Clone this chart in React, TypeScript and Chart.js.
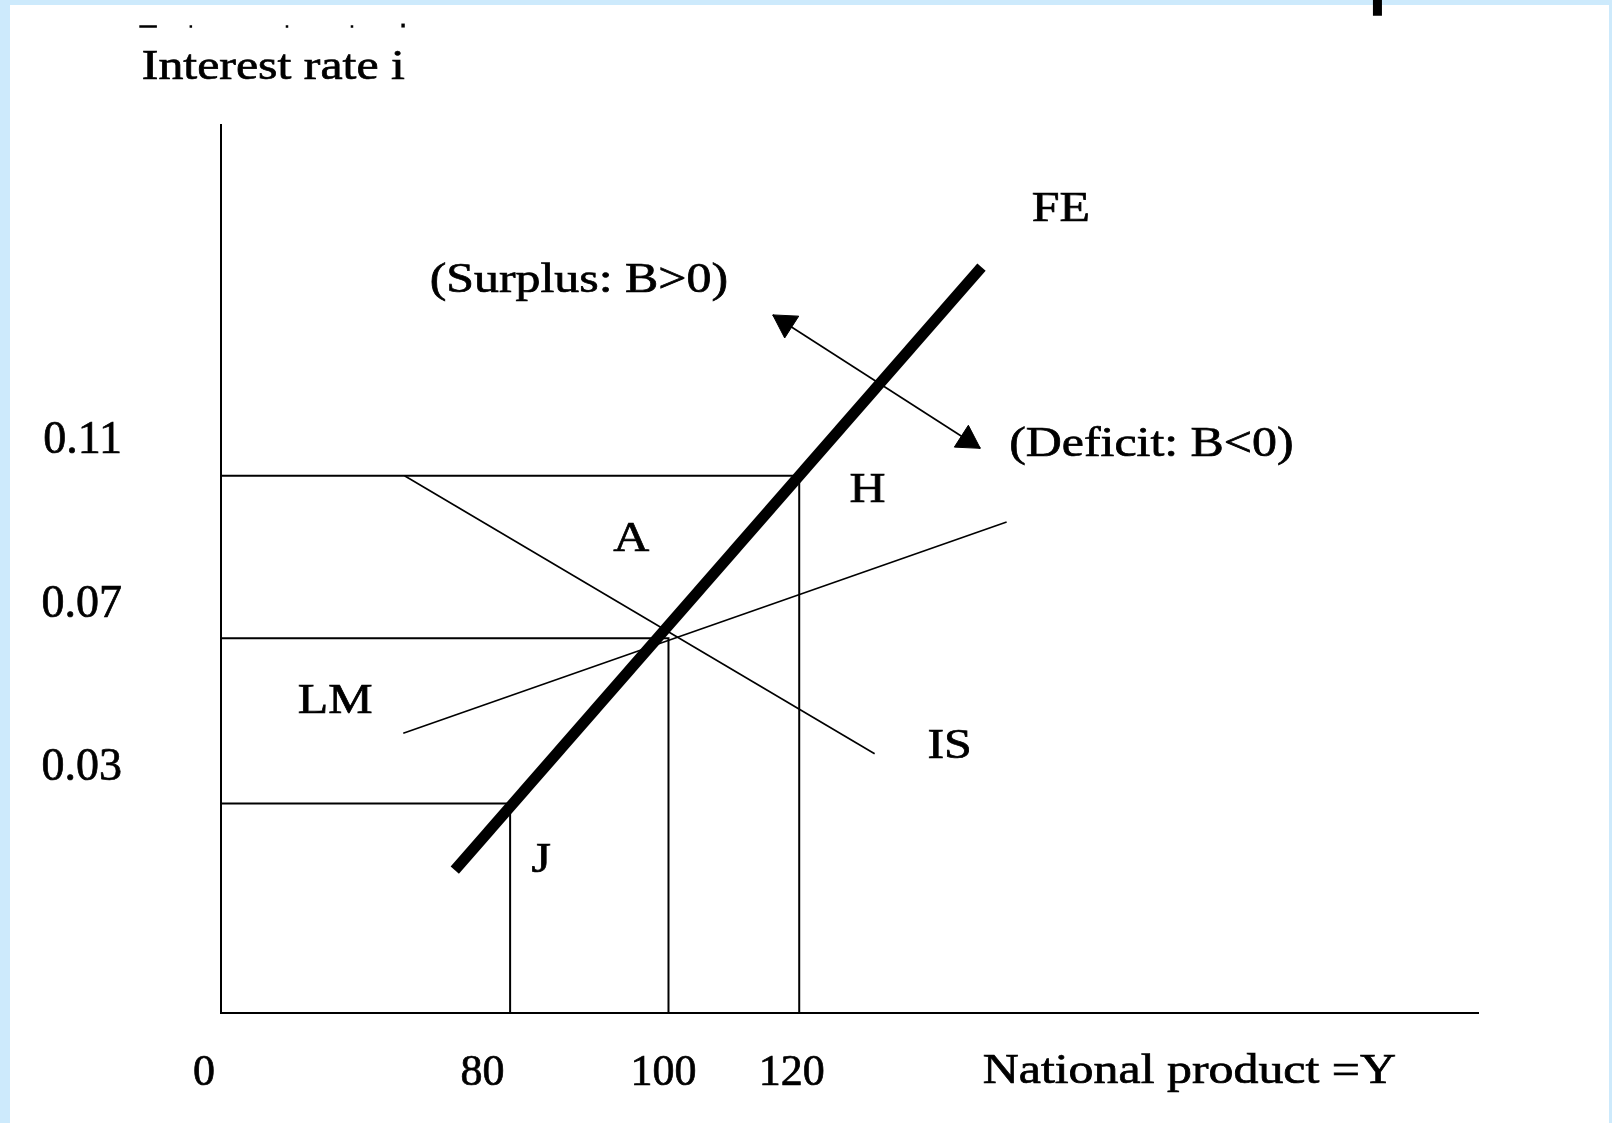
import React, { useEffect, useRef } from "react";
import { Chart, registerables } from "chart.js";

Chart.register(...registerables);

// ---- Diagram data (schematic units: x 0..100 along the Y axis, y 0..100 along the i axis) ----
const xTickValues = [-1.35, 20.8, 35.2, 45.4];
const xTickLabels = ["0", "80", "100", "120"];
const yTickValues = [64.4, 46.0, 27.6];
const yTickLabels = ["0.11", "0.07", "0.03"];

// guide lines (horizontal from i-axis, then down to Y-axis)
const guideHighX = [0, 46.0, 46.0];
const guideHighY = [60.5, 60.5, 0];
const guideMidX = [0, 35.6, 35.6];
const guideMidY = [42.2, 42.2, 0];
const guideLowX = [0, 23.0, 23.0];
const guideLowY = [23.6, 23.6, 0];

// curves
const isX = [14.6, 52.0];
const isY = [60.5, 29.2];
const lmX = [14.5, 62.5];
const lmY = [31.5, 55.3];
const feX = [18.6, 60.5];
const feY = [16.1, 84.0];

// balance-of-payments arrow
const arrowX = [43.9, 60.4];
const arrowY = [78.6, 63.6];
const arrowHeadX = [44.9, 59.4];
const arrowHeadY = [77.7, 64.5];
const arrowHeadRotation = [-57.3, 122.7];

// scan residue at top of page (cut-off text line), listed right to left
const residueStartX = [10.32, 5.15, -2.5, -6.5];
const residueEndX = [10.52, 5.35, -2.3, -5.1];
const residueY = [111.1, 111.1, 111.1, 111.1];
const residueDotX = [14.35, 14.62];
const residueDotY = [111.2, 111.2];
const barX = [92.0, 92.0];
const barY = [114.3, 112.3];

// text annotations
const annotationText = [
  "Interest rate i",
  "FE",
  "(Surplus: B>0)",
  "(Deficit: B<0)",
  "H",
  "A",
  "LM",
  "IS",
  "J",
  "National product =Y",
];
const annotationX = [-6.3, 64.5, 16.6, 62.7, 50.0, 31.2, 6.1, 56.2, 24.7, 60.6];
const annotationY = [106.5, 90.45, 82.45, 63.95, 58.85, 53.35, 35.05, 29.95, 17.15, -6.6];

const FONT = '"Liberation Serif", "Times New Roman", Times, serif';

const zip = (xs: number[], ys: number[]) => xs.map((v, i) => ({ x: v, y: ys[i] }));
const segments = (x0: number[], x1: number[], ys: number[]) =>
  x0.flatMap((v, i) => [
    { x: v, y: ys[i] },
    { x: x1[i], y: ys[i] },
    { x: x1[i], y: null },
  ]);

const bgPlugin = {
  id: "pageBg",
  beforeDraw(chart: any) {
    const { ctx, width, height } = chart;
    ctx.save();
    ctx.fillStyle = "rgb(205,234,252)";
    ctx.fillRect(0, 0, width, height);
    ctx.fillStyle = "#ffffff";
    ctx.fillRect(10, 5, width - 13, height - 5);
    ctx.restore();
  },
};

const textPlugin = {
  id: "diagramText",
  afterDraw(chart: any) {
    const { ctx } = chart;
    const xs = chart.scales.x;
    const ys = chart.scales.y;
    ctx.save();
    ctx.fillStyle = "#000";
    ctx.strokeStyle = "#000";
    ctx.lineWidth = 0.7;
    ctx.font = `43px ${FONT}`;
    ctx.textAlign = "left";
    ctx.textBaseline = "middle";
    annotationText.forEach((t, i) => {
      ctx.save();
      ctx.translate(xs.getPixelForValue(annotationX[i]), ys.getPixelForValue(annotationY[i]));
      ctx.scale(1.16, 1);
      ctx.fillText(t, 0, 0);
      ctx.strokeText(t, 0, 0);
      ctx.restore();
    });
    ctx.restore();
  },
};

const lineSet = (label: string, data: any[], width: number) => ({
  label,
  data,
  showLine: true,
  spanGaps: false,
  borderColor: "#000",
  backgroundColor: "#000",
  borderWidth: width,
  pointRadius: 0,
  tension: 0,
  borderCapStyle: "butt",
});

export default function App() {
  const ref = useRef<HTMLCanvasElement | null>(null);

  useEffect(() => {
    document.body.style.margin = "0";
    document.body.style.overflow = "hidden";
    const canvas = ref.current;
    if (!canvas) return;
    const chart = new Chart(canvas, {
      type: "scatter",
      data: {
        datasets: [
          lineSet("guide 0.11", zip(guideHighX, guideHighY), 2),
          lineSet("guide 0.07", zip(guideMidX, guideMidY), 2),
          lineSet("guide 0.03", zip(guideLowX, guideLowY), 2),
          lineSet("IS", zip(isX, isY), 1.6),
          lineSet("LM", zip(lmX, lmY), 1.6),
          lineSet("arrow", zip(arrowX, arrowY), 1.6),
          lineSet("FE", zip(feX, feY), 11),
          {
            label: "arrow heads",
            data: zip(arrowHeadX, arrowHeadY),
            showLine: false,
            pointStyle: "triangle",
            pointRadius: 15,
            pointRotation: arrowHeadRotation,
            pointBackgroundColor: "#000",
            pointBorderColor: "#000",
            pointBorderWidth: 1,
          },
          { ...lineSet("residue", segments(residueStartX, residueEndX, residueY), 2.4), clip: false },
          { ...lineSet("residue dot", zip(residueDotX, residueDotY), 4), clip: false },
          { ...lineSet("bar", zip(barX, barY), 9), clip: false },
        ] as any,
      },
      options: {
        responsive: false,
        animation: false,
        devicePixelRatio: 1,
        events: [],
        layout: { padding: { left: 0, right: 134, top: 125, bottom: 0 } },
        plugins: {
          legend: { display: false },
          tooltip: { enabled: false },
          title: { display: false },
        },
        scales: {
          x: {
            type: "linear",
            min: 0,
            max: 100,
            bounds: "data",
            position: "bottom",
            grid: { display: false, drawTicks: false },
            border: { display: true, color: "#000", width: 2 },
            ticks: {
              autoSkip: false,
              maxRotation: 0,
              minRotation: 0,
              padding: 38,
              color: "#000",
              textStrokeColor: "#000",
              textStrokeWidth: 0.7,
              font: { family: FONT, size: 44, lineHeight: 1 },
              callback: (_v: any, i: number) => xTickLabels[i],
            },
            afterBuildTicks: (s: any) => {
              s.ticks = xTickValues.map((v) => ({ value: v }));
            },
            afterFit: (s: any) => {
              s.height = 110;
              s.paddingLeft = 0;
              s.paddingRight = 0;
            },
          },
          y: {
            type: "linear",
            min: 0,
            max: 100,
            bounds: "data",
            position: "left",
            grid: { display: false, drawTicks: false },
            border: { display: true, color: "#000", width: 2 },
            ticks: {
              autoSkip: false,
              padding: 99,
              crossAlign: "near",
              color: "#000",
              textStrokeColor: "#000",
              textStrokeWidth: 0.7,
              font: { family: FONT, size: 46, lineHeight: 1 },
              callback: (_v: any, i: number) => yTickLabels[i],
            },
            afterBuildTicks: (s: any) => {
              s.ticks = yTickValues.map((v) => ({ value: v }));
            },
            afterFit: (s: any) => {
              s.width = 221;
              s.paddingTop = 0;
              s.paddingBottom = 0;
            },
          },
        },
      } as any,
      plugins: [bgPlugin, textPlugin],
    });
    return () => chart.destroy();
  }, []);

  return (
    <div style={{ position: "absolute", left: 0, top: 0, width: 1612, height: 1123 }}>
      <canvas ref={ref} width={1612} height={1123} style={{ display: "block" }} />
    </div>
  );
}
